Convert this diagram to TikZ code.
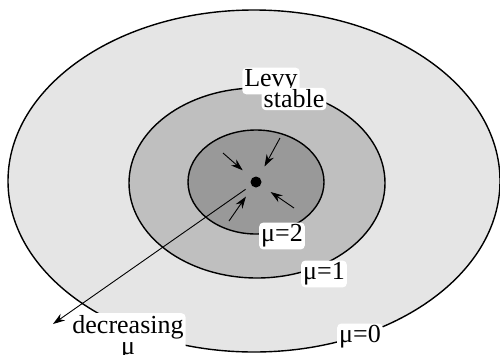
\documentclass[tikz,border=0pt]{standalone}
\usepackage{fontspec}
\setmainfont{Liberation Serif}
\newfontfamily\labelfont{Liberation Serif}
\usetikzlibrary{arrows.meta}

\begin{document}
\begin{tikzpicture}[x=1pt, y=-1pt,
    ring/.style={draw=black, line width=1.4pt},
    tag/.style={fill=white, rounded corners=4pt, inner sep=2pt, font=\labelfont\fontsize{26}{21}\selectfont},
    flow/.style={-{Stealth[length=12pt,width=8pt]}, line width=0.9pt, shorten >=12pt}]
    \useasboundingbox (0,0) rectangle (500,354);

    % Basins, from the largest to the smallest
    \filldraw[ring, fill=black!10] (254,181) ellipse [x radius=246, y radius=171];
    \filldraw[ring, fill=black!25] (257,183) ellipse [x radius=128, y radius=95];
    \filldraw[ring, fill=black!40] (256,182) ellipse [x radius=68, y radius=52];

    % Fixed point and the flow towards it
    \node[circle, fill=black, inner sep=0pt, minimum size=11pt] (fp) at (256,182) {};
    \coordinate (a1) at (223,153);
    \coordinate (a2) at (280,138);
    \coordinate (a3) at (294,208);
    \coordinate (a4) at (229,221);
    \foreach \c in {a1,a2,a3,a4} \draw[flow] (\c) -- (fp);

    % Flow away, towards smaller mu
    \coordinate (far) at (53,324);
    \draw[flow, shorten >=0pt, shorten <=7pt] (fp) -- (far);

    % Labels
    \node[tag] (levy) at (271,81) {Levy};
    \node[tag] (stable) at (294,99) {stable};
    \node[tag] (mu2) at (282,236) {μ=2};
    \node[tag] (mu1) at (324,274) {μ=1};
    \node[tag] (mu0) at (360,337) {μ=0};
    \node[tag, align=center, anchor=north] (dec) at (128,313) {decreasing\\μ};
\end{tikzpicture}
\end{document}
